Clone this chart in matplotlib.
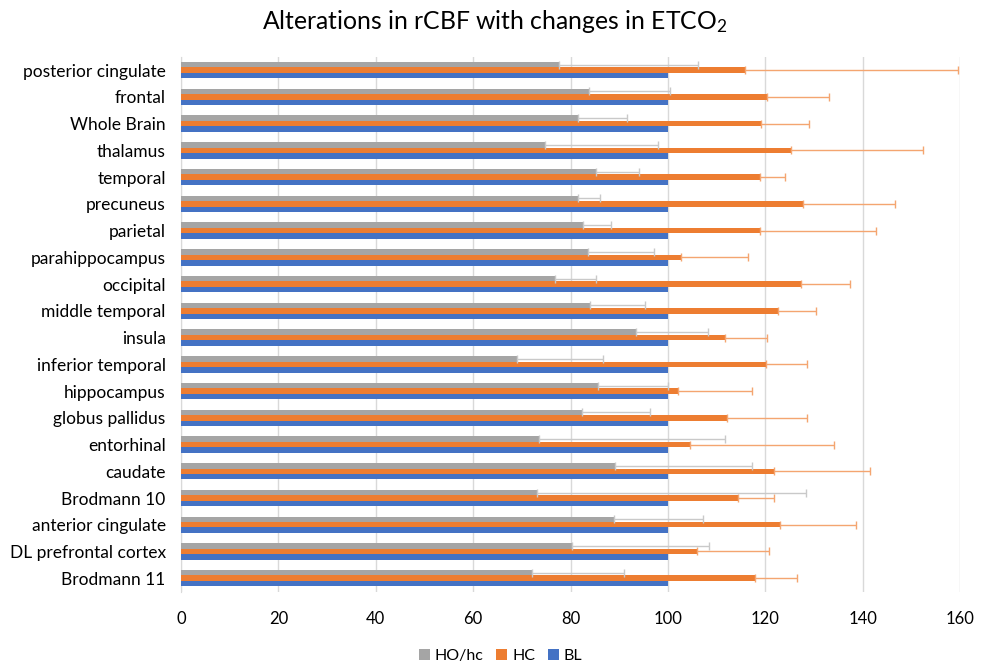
import matplotlib.pyplot as plt
import numpy as np

plt.rcParams['font.family'] = ['Lato', 'DejaVu Sans']
plt.rcParams['mathtext.default'] = 'regular'

# regions listed bottom to top
regions = ["Brodmann 11", "DL prefrontal cortex", "anterior cingulate", "Brodmann 10",
           "caudate", "entorhinal", "globus pallidus", "hippocampus", "inferior temporal",
           "insula", "middle temporal", "occipital", "parahippocampus", "parietal",
           "precuneus", "temporal", "thalamus", "Whole Brain", "frontal",
           "posterior cingulate"]

bl = [100] * len(regions)
hc = [117.9, 105.9, 122.9, 114.4, 121.8, 104.4, 112.0, 102.0, 120.2, 111.7,
      122.6, 127.2, 102.6, 118.8, 127.8, 118.8, 125.3, 119.0, 120.4, 115.8]
hc_err_top = [126.4, 120.8, 138.6, 121.8, 141.4, 134.0, 128.6, 117.3, 128.6, 120.4,
              130.3, 137.3, 116.5, 142.7, 146.5, 124.1, 152.4, 128.9, 133.1, 159.6]
ho = [72.1, 80.2, 88.8, 73.1, 89.2, 73.4, 82.4, 85.7, 68.9, 93.4,
      83.9, 76.7, 83.5, 82.5, 81.6, 85.3, 74.8, 81.6, 83.7, 77.7]
ho_err_top = [91.0, 108.5, 107.1, 128.4, 117.3, 111.7, 96.2, 100.0, 86.6, 108.3,
              95.2, 85.2, 97.2, 88.2, 86.0, 94.0, 97.9, 91.6, 100.4, 106.1]

hc = np.array(hc)
ho = np.array(ho)
hc_err = np.array(hc_err_top) - hc
ho_err = np.array(ho_err_top) - ho

y = np.arange(len(regions))
h = 0.205

fig = plt.figure(figsize=(9.89, 6.61), dpi=100)
ax = fig.add_axes([0.183, 0.105, 0.788, 0.809])

zeros = np.zeros(len(regions))
ax.barh(y - h, bl, height=h, color='#4472C4', label='BL', zorder=3)
ax.barh(y, hc, height=h, color='#ED7D31', label='HC', zorder=3,
        xerr=[zeros, hc_err], error_kw=dict(ecolor='#F4A570', elinewidth=1, capsize=3, capthick=1))
ax.barh(y + h, ho, height=h, color='#A5A5A5', label='HO/hc', zorder=3,
        xerr=[zeros, ho_err], error_kw=dict(ecolor='#C9C9C9', elinewidth=1, capsize=3, capthick=1))

ax.set_xlim(0, 160)
ax.set_ylim(-0.5, len(regions) - 0.5)
ax.set_xticks(np.arange(0, 161, 20))
ax.set_yticks(y)
ax.set_yticklabels(regions, fontsize=12.5, color='#000000')
ax.tick_params(axis='x', labelsize=12, length=0, pad=14)
ax.tick_params(axis='y', length=0, pad=11)
ax.xaxis.grid(True, color='#D9D9D9', linewidth=1, zorder=0)
for s in ['top', 'right', 'bottom']:
    ax.spines[s].set_visible(False)
ax.spines['left'].set_color('#D9D9D9')

fig.text(0.5, 0.967, 'Alterations in rCBF with changes in ETCO$_2$', fontsize=17.8,
         ha='center', va='center')

handles, labels = ax.get_legend_handles_labels()
order = [2, 1, 0]
ax.legend([handles[i] for i in order], [labels[i] for i in order],
          loc='upper center', bbox_to_anchor=(0.41, -0.08), ncol=3, frameon=False,
          fontsize=11.5, handlelength=0.7, handleheight=0.7, columnspacing=0.8,
          handletextpad=0.3)

fig.savefig('out.png', dpi=100)
